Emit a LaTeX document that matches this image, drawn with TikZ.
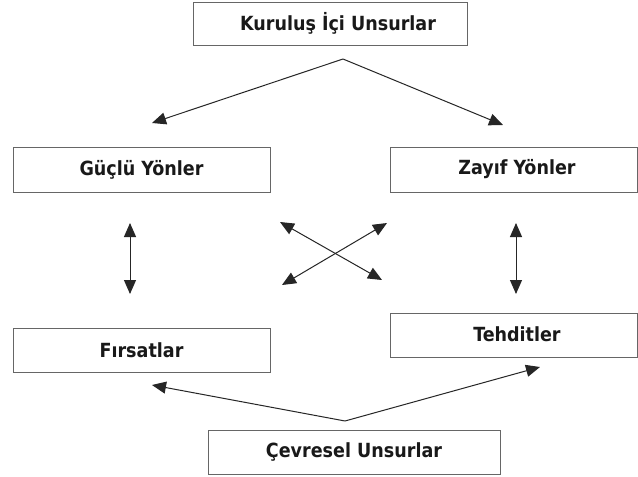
\documentclass[tikz,border=0pt]{standalone}
\usepackage{fontspec}
\setmainfont{DejaVu Sans Condensed}[BoldFont={DejaVu Sans Condensed Bold}]
\usetikzlibrary{arrows.meta}
\begin{document}
\begin{tikzpicture}[x=1pt,y=-1pt,
  box/.style={draw=black!60,line width=0.9pt,fill=white,inner sep=0pt},
  lbl/.style={font=\fontsize{19.5}{22}\selectfont\bfseries,text=black!90},
  conn/.style={draw=black!85,line width=1pt,-{Triangle[length=14pt,width=12pt]}},
  dconn/.style={draw=black!85,line width=1pt,{Triangle[length=14pt,width=12pt]}-{Triangle[length=14pt,width=12pt]}}]
\useasboundingbox (0,0) rectangle (638,477);
\fill[white] (0,0) rectangle (638,477);
% boxes
\draw[box] (193,2) rectangle (467,45);
\node[lbl] (top) at (338,23.5) {Kuruluş İçi Unsurlar};
\draw[box] (13,147) rectangle (270,192);
\node[lbl] (gy) at (141.5,169.5) {Güçlü Yönler};
\draw[box] (390,147) rectangle (637,192);
\node[lbl] (zy) at (517,169.5) {Zayıf Yönler};
\draw[box] (13,328) rectangle (270,372);
\node[lbl] (fr) at (141.5,350) {Fırsatlar};
\draw[box] (390,313) rectangle (637,357);
\node[lbl] (th) at (517,334) {Tehditler};
\draw[box] (208,430) rectangle (500,474);
\node[lbl] (cv) at (354,452) {Çevresel Unsurlar};
% connector coordinates
\coordinate (a1) at (343,59);
\coordinate (a1l) at (152,123);
\coordinate (a1r) at (503,125);
\coordinate (a2) at (345,421);
\coordinate (a2l) at (152,385);
\coordinate (a2r) at (540,367);
\coordinate (vl1) at (130,223);
\coordinate (vl2) at (130,294);
\coordinate (vr1) at (516,223);
\coordinate (vr2) at (516,294);
\coordinate (x1) at (280,222);
\coordinate (x2) at (382,280);
\coordinate (x3) at (387,223);
\coordinate (x4) at (282,285);
\draw[conn] (a1) -- (a1l);
\draw[conn] (a1) -- (a1r);
\draw[conn] (a2) -- (a2l);
\draw[conn] (a2) -- (a2r);
\draw[dconn] (vl1) -- (vl2);
\draw[dconn] (vr1) -- (vr2);
\draw[dconn] (x1) -- (x2);
\draw[dconn] (x3) -- (x4);
\end{tikzpicture}
\end{document}
